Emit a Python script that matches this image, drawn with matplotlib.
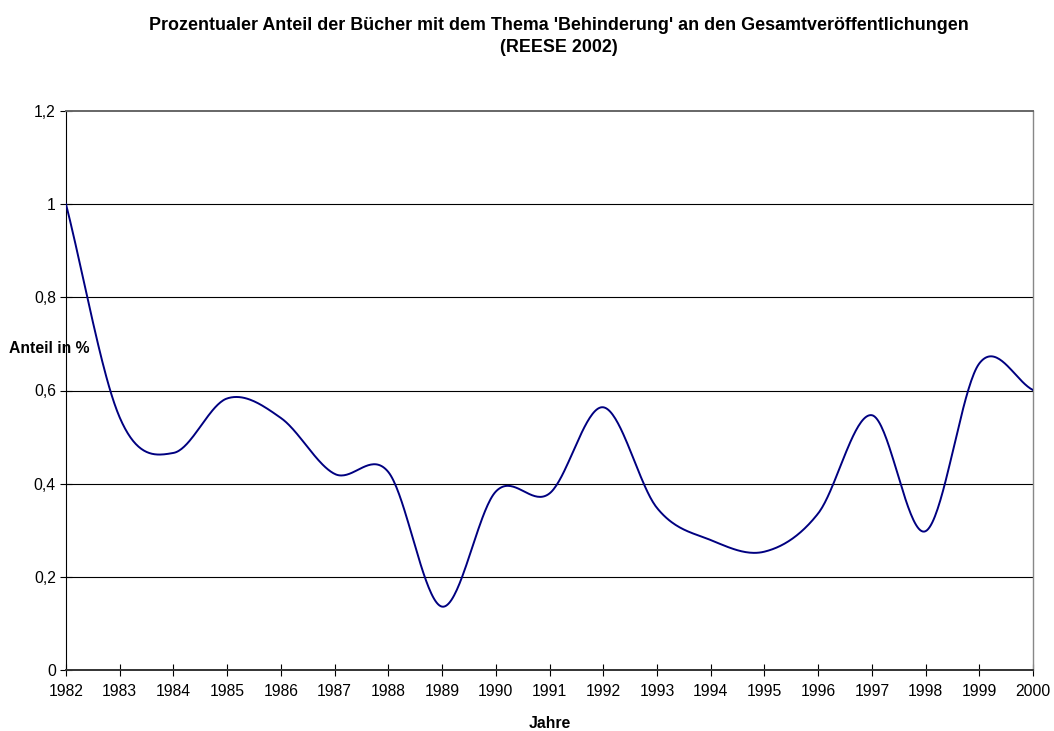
import numpy as np
import matplotlib
matplotlib.use("Agg")
import matplotlib.pyplot as plt

plt.rcParams['font.family'] = ['Liberation Sans', 'DejaVu Sans']

# data (one point per year)
years = list(range(1982, 2001))
anteil = [1.0, 0.542, 0.466, 0.583, 0.541, 0.421, 0.425, 0.136, 0.383, 0.379,
          0.564, 0.348, 0.279, 0.254, 0.336, 0.547, 0.298, 0.658, 0.601]
yticks = [0, 0.2, 0.4, 0.6, 0.8, 1.0, 1.2]
ytick_labels = ['0', '0,2', '0,4', '0,6', '0,8', '1', '1,2']


def smooth(x, y, n=40):
    # Excel-like smoothed line: cubic Hermite with Catmull-Rom tangents
    x = np.asarray(x, float)
    y = np.asarray(y, float)
    m = np.zeros_like(y)
    m[1:-1] = (y[2:] - y[:-2]) / (x[2:] - x[:-2])
    m[0] = (y[1] - y[0]) / (x[1] - x[0])
    m[-1] = (y[-1] - y[-2]) / (x[-1] - x[-2])
    xs, ys = [], []
    for i in range(len(x) - 1):
        h = x[i + 1] - x[i]
        t = np.linspace(0, 1, n, endpoint=False)
        h00 = 2 * t**3 - 3 * t**2 + 1
        h10 = t**3 - 2 * t**2 + t
        h01 = -2 * t**3 + 3 * t**2
        h11 = t**3 - t**2
        xs.append(x[i] + t * h)
        ys.append(h00 * y[i] + h10 * h * m[i] + h01 * y[i + 1] + h11 * h * m[i + 1])
    xs.append([x[-1]])
    ys.append([y[-1]])
    return np.concatenate(xs), np.concatenate(ys)


fig = plt.figure(figsize=(10.54, 7.31), dpi=100)
ax = fig.add_axes([66 / 1054, 1 - 670 / 731, (1033 - 66) / 1054, (670 - 111) / 731])

sx, sy = smooth(years, anteil)
ax.plot(sx, sy, color='#000080', lw=1.4, zorder=3)

ax.set_xlim(1982, 2000)
ax.set_ylim(0, 1.2)
ax.set_xticks(years)
ax.set_xticklabels([str(y) for y in years], fontsize=11.3)
ax.set_yticks(yticks)
ax.set_yticklabels(ytick_labels, fontsize=11.3)
for v in yticks[1:-1]:
    ax.axhline(v, color='black', lw=0.8, zorder=1)

ax.tick_params(axis='both', direction='inout', length=8.5, width=0.8, colors='black')
ax.tick_params(axis='x', pad=6)
ax.tick_params(axis='y', pad=3)
ax.spines['left'].set_color('black')
ax.spines['left'].set_linewidth(0.8)
ax.spines['bottom'].set_color('#333333')
ax.spines['bottom'].set_linewidth(1.4)
ax.spines['top'].set_color('#666666')
ax.spines['top'].set_linewidth(1.4)
ax.spines['right'].set_color('#888888')
ax.spines['right'].set_linewidth(1.0)

fig.text(559 / 1054, 1 - 25 / 731,
         "Prozentualer Anteil der Bücher mit dem Thema 'Behinderung' an den Gesamtveröffentlichungen",
         ha='center', va='center', fontsize=12.9, fontweight='bold')
fig.text(559 / 1054, 1 - 48 / 731, "(REESE 2002)",
         ha='center', va='center', fontsize=12.9, fontweight='bold')
fig.text(9 / 1054, 1 - 348 / 731, "Anteil in %", ha='left', va='center',
         fontsize=11.3, fontweight='bold')
fig.text(550 / 1054, 1 - 724 / 731, "Jahre", ha='center', va='center',
         fontsize=11.3, fontweight='bold')

fig.savefig('out.png', dpi=100)
